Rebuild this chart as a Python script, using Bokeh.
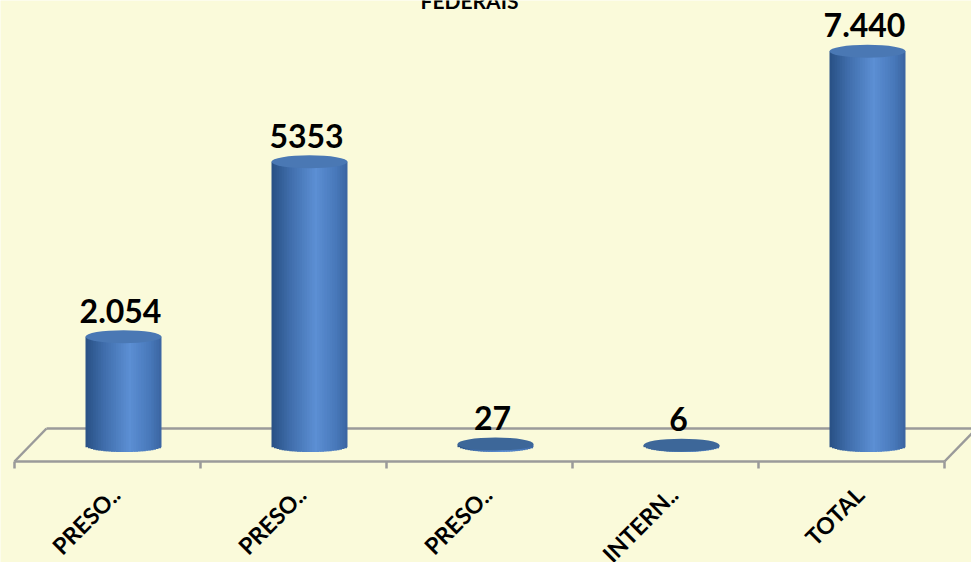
import numpy as np
from bokeh.plotting import figure
from bokeh.models import Range1d
from bokeh.core.properties import value
from bokeh.embed import file_html
from bokeh.resources import INLINE

# ---- data ----
categories = ["PRESO..", "PRESO..", "PRESO..", "INTERN..", "TOTAL"]
values = [2054, 5353, 27, 6, 7440]
value_labels = ["2.054", "5353", "27", "6", "7.440"]
title_text = "FEDERAIS"

# ---- layout / style constants ----
W, H = 971, 562
BG = "#FAFADA"
PX_X = 186.0          # pixels per category
Y_PER_PX = 18.87      # value units per pixel
ORIGIN_X = 123        # px of category 0 (cylinder axis) from figure left
BASE_Y = 445          # px of value 0 from figure top
CYL_W_PX = 76
ELL_H_PX = 13
N_STRIPS = 30
FONT = value("Lato")

x0 = -ORIGIN_X / PX_X
x1 = x0 + W / PX_X
y1 = BASE_Y * Y_PER_PX
y0 = y1 - H * Y_PER_PX

p = figure(width=W, height=H, x_range=Range1d(x0, x1), y_range=Range1d(y0, y1),
           output_backend="svg", toolbar_location=None, min_border=0,
           x_axis_location=None, y_axis_location=None,
           background_fill_color=BG, border_fill_color=BG, outline_line_color=None)
p.grid.visible = False

n = len(categories)
idx = np.arange(n, dtype=float)

# ---- floor (3D plane) ----
DEPTH_X = 32 / PX_X
DEPTH_Y = 33 * Y_PER_PX
front_y = -16 * Y_PER_PX
back_y = front_y + DEPTH_Y
fl = -0.5 - DEPTH_X / 2
fr = fl + n
floor_col = "#9A9A9A"
p.segment(x0=[fl, fl + DEPTH_X, fl, fr], y0=[front_y, back_y, front_y, front_y],
          x1=[fr, fr + DEPTH_X, fl + DEPTH_X, fr + DEPTH_X], y1=[front_y, back_y, back_y, back_y],
          line_color=floor_col, line_width=2.5)
ticks_x = fl + np.arange(n + 1)
p.segment(x0=ticks_x, y0=[front_y] * (n + 1), x1=ticks_x, y1=[front_y - 7 * Y_PER_PX] * (n + 1),
          line_color=floor_col, line_width=2.5)

# ---- cylinders ----
stops = [(0.0, (40, 80, 132)), (0.25, (64, 110, 172)), (0.58, (92, 143, 212)),
         (0.85, (72, 120, 186)), (1.0, (58, 100, 160))]

def grad(t):
    for (ta, ca), (tb, cb) in zip(stops[:-1], stops[1:]):
        if ta <= t <= tb:
            f = (t - ta) / (tb - ta)
            c = [int(round(a + (b - a) * f)) for a, b in zip(ca, cb)]
            return "#%02x%02x%02x" % tuple(c)
    return "#%02x%02x%02x" % stops[-1][1]

cw = CYL_W_PX / PX_X
sw = cw / N_STRIPS
ql, qr, qb, qt, qc = [], [], [], [], []
for i, v in enumerate(values):
    for j in range(N_STRIPS):
        l = i - cw / 2 + j * sw
        r = l + (sw * 1.8 if j < N_STRIPS - 1 else sw)
        u = ((j + 0.5) / N_STRIPS) * 2 - 1
        bot = -(ELL_H_PX / 2) * np.sqrt(max(0.0, 1 - u * u)) * Y_PER_PX
        ql.append(l)
        qr.append(r)
        qb.append(bot)
        qt.append(v)
        qc.append(grad((j + 0.5) / N_STRIPS))
p.quad(left=ql, right=qr, bottom=qb, top=qt, fill_color=qc, line_color=None)

top_cols = ["#4A78B4" if v > 500 else "#3D6799" for v in values]
p.ellipse(x=idx, y=values, width=CYL_W_PX, height=ELL_H_PX, width_units="screen",
          height_units="screen", fill_color=top_cols, line_color=None)

# ---- value labels ----
p.text(x=idx, y=values, text=value_labels, text_align="center", text_baseline="alphabetic",
       x_offset=-3, y_offset=-26, text_font=FONT, text_font_style="bold",
       text_font_size="32px", text_color="#000000")

# ---- category labels (rotated) ----
lab_y = (BASE_Y - 490) * Y_PER_PX
p.text(x=idx - 8 / PX_X, y=[lab_y] * n, text=categories, angle=np.pi / 4,
       text_align="right", text_baseline="middle", text_font=FONT,
       text_font_style="bold", text_font_size="23px", text_color="#000000")

# ---- title (cut off at top) ----
p.text(x=[(469 - ORIGIN_X) / PX_X], y=[BASE_Y * Y_PER_PX], text=[title_text],
       text_align="center", text_baseline="alphabetic", text_font=FONT,
       text_font_style="bold", text_font_size="21px", text_color="#000000")

open("out.html", "w").write(file_html(p, INLINE))
